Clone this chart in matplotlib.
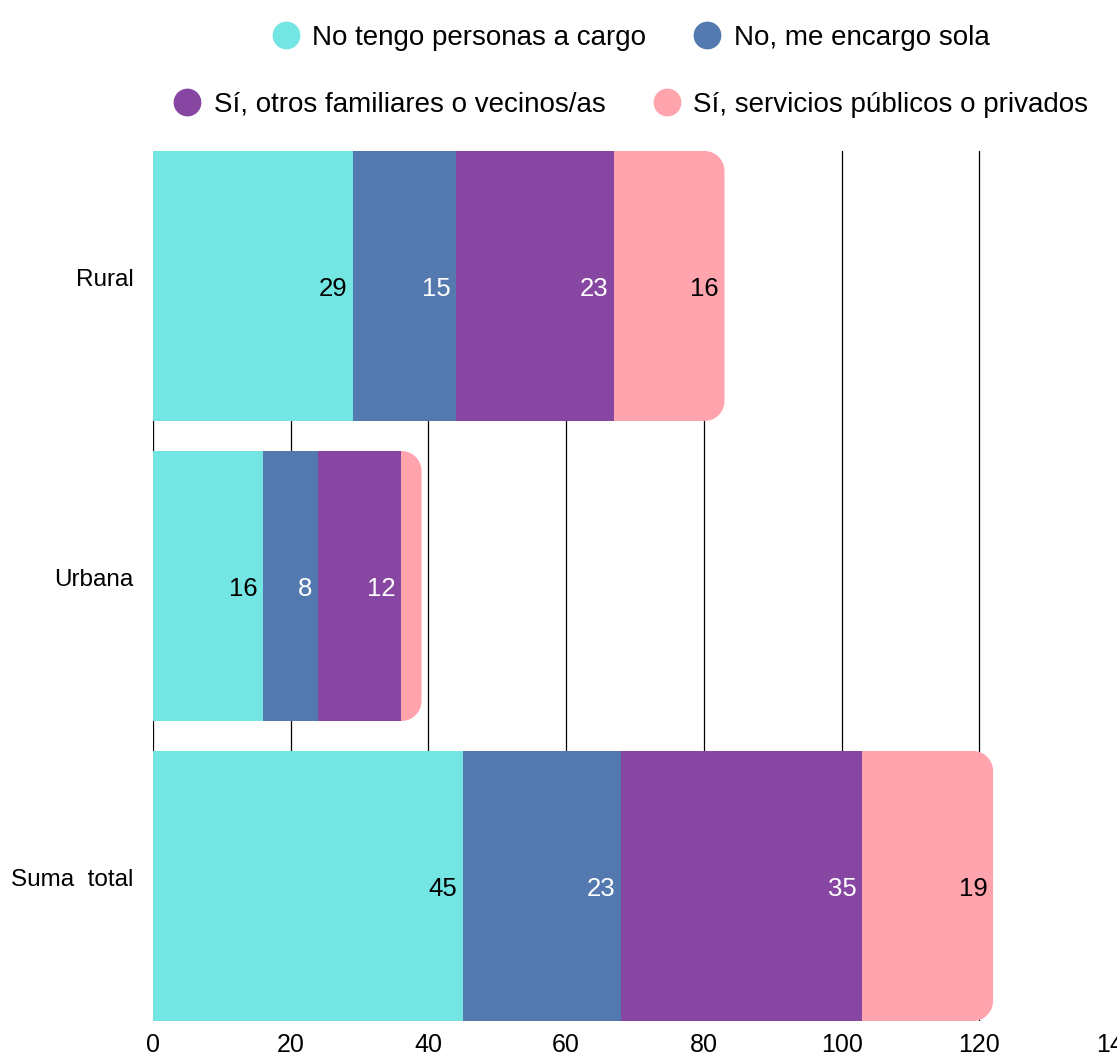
import numpy as np
import matplotlib
matplotlib.use("Agg")
import matplotlib.pyplot as plt
import matplotlib.transforms as mtransforms
from matplotlib.patches import Polygon
from matplotlib.lines import Line2D

plt.rcParams['font.family'] = ['Liberation Sans', 'DejaVu Sans']

categories = ["Rural", "Urbana", "Suma  total"]
series_names = [
    "No tengo personas a cargo",
    "No, me encargo sola",
    "Sí, otros familiares o vecinos/as",
    "Sí, servicios públicos o privados",
]
no_tengo = [29, 16, 45]
me_encargo = [15, 8, 23]
otros_familiares = [23, 12, 35]
servicios = [16, 3, 19]
x_ticks = [0, 20, 40, 60, 80, 100, 120, 140]

series_values = [no_tengo, me_encargo, otros_familiares, servicios]
series_colors = ["#73E6E4", "#5479AF", "#8646A1", "#FFA3AD"]
label_colors = ["black", "white", "white", "black"]

figure = plt.figure(figsize=(11.17, 10.61), dpi=100)
axis = figure.add_axes([153 / 1117, 1 - 1021 / 1061, 1 - 153 / 1117, 870 / 1061])

bar_height = 0.9
y_positions = np.arange(len(categories))
px_per_x = 964 / 140
px_per_y = 870 / 2.9
radius_px = 20


def rounded_end_bar(y, length):
    # rectangle from 0 to length with rounded corners on the right side
    rx = radius_px / px_per_x
    ry = radius_px / px_per_y
    top = y - bar_height / 2
    bottom = y + bar_height / 2
    theta = np.linspace(0, np.pi / 2, 12)
    top_arc = np.column_stack([length - rx + rx * np.sin(theta), top + ry - ry * np.cos(theta)])
    bottom_arc = np.column_stack([length - rx + rx * np.cos(theta), bottom - ry + ry * np.sin(theta)])
    points = np.vstack([[[0, top]], top_arc, bottom_arc, [[0, bottom]]])
    return points


totals = np.sum(series_values, axis=0)
for y, total in zip(y_positions, totals):
    axis.add_patch(Polygon(rounded_end_bar(y, total), closed=True, facecolor=series_colors[-1],
                           edgecolor="none", zorder=2))

left = np.zeros(len(categories))
for i, values in enumerate(series_values):
    values = np.array(values, dtype=float)
    if i < len(series_values) - 1:
        axis.barh(y_positions, values, left=left, height=bar_height, color=series_colors[i],
                  edgecolor="none", zorder=3)
    for y, start, value in zip(y_positions, left, values):
        if value >= 5:
            axis.annotate(f"{int(value)}", xy=(start + value, y), xytext=(-4, -2),
                          textcoords="offset points", ha="right", va="center",
                          fontsize=18.5, color=label_colors[i], zorder=4)
    left += values

axis.set_xlim(0, 140)
axis.set_ylim(2.45, -0.45)
axis.set_xticks(x_ticks)
axis.set_xticklabels([str(t) for t in x_ticks], fontsize=18)
axis.set_yticks(y_positions)
axis.set_yticklabels(categories, fontsize=17.5)
axis.tick_params(axis="both", length=0)
axis.tick_params(axis="x", pad=9)
axis.tick_params(axis="y", pad=14)
shift = mtransforms.ScaledTranslation(0, 9 / 100, figure.dpi_scale_trans)
for label in axis.get_yticklabels():
    label.set_transform(label.get_transform() + shift)
for t in x_ticks[:-1]:
    axis.axvline(t, color="black", linewidth=0.9, zorder=1)
for spine in axis.spines.values():
    spine.set_visible(False)

handles = [Line2D([], [], linestyle="None", marker="o", markersize=19, color=c) for c in series_colors]
legend_one = axis.legend(handles[:2], series_names[:2], loc="center", bbox_to_anchor=(0.495, 1.13),
                         ncol=2, frameon=False, fontsize=20, handletextpad=0.4, columnspacing=1.65,
                         handlelength=1.1)
axis.add_artist(legend_one)
axis.legend(handles[2:], series_names[2:], loc="center", bbox_to_anchor=(0.495, 1.053),
            ncol=2, frameon=False, fontsize=20, handletextpad=0.4, columnspacing=1.65,
            handlelength=1.1)

figure.savefig("out.png", dpi=100)
